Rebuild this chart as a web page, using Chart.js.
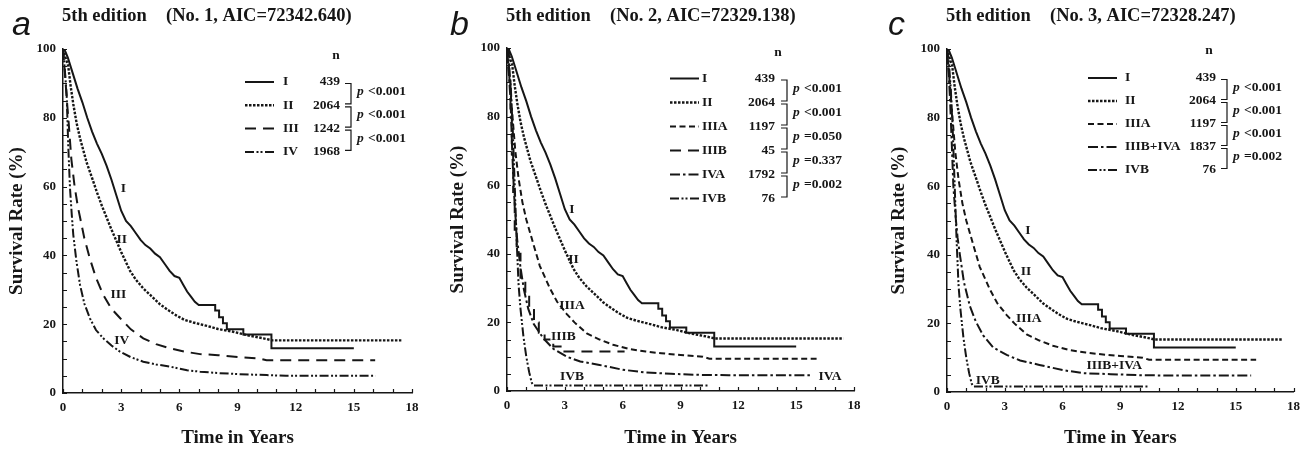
<!DOCTYPE html>
<html>
<head>
<meta charset="utf-8">
<script src="https://cdn.jsdelivr.net/npm/chart.js@4/dist/chart.umd.min.js"></script>
<style>
  body { margin: 0; background: #fff; width: 1307px; height: 449px; position: relative; overflow: hidden; }
  canvas { position: absolute; top: 0; }
</style>
</head>
<body>
<canvas id="chartA" width="435" height="449" style="left:0px"></canvas>
<canvas id="chartB" width="437" height="449" style="left:435px"></canvas>
<canvas id="chartC" width="435" height="449" style="left:872px"></canvas>
<script>
// axis ticks
const xTickValues = [0, 3, 6, 9, 12, 15, 18];
const yTickValues = [0, 20, 40, 60, 80, 100];

// survival curves, time in years / survival %
const stageI_t = [0, 0.1, 0.25, 0.5, 0.75, 1, 1.25, 1.5, 1.75, 2, 2.25, 2.5, 2.75, 3, 3.25, 3.5, 3.75, 4, 4.25, 4.5, 4.75, 5, 5.25, 5.5, 5.75, 6, 6.2, 6.4, 6.6, 6.8, 7, 7.85, 7.85, 8.05, 8.05, 8.25, 8.25, 8.45, 8.45, 9.3, 9.3, 10.75, 10.75, 15];
const stageI_s = [100, 99.5, 97.5, 93, 88.5, 84.5, 80, 76, 72.5, 69.5, 66, 62, 57.5, 53, 50, 48.5, 46.5, 44.5, 43, 42, 40.5, 39.5, 37.5, 35.5, 34, 33.5, 31.5, 29.5, 28, 26.5, 25.6, 25.6, 24, 24, 22, 22, 20.3, 20.3, 18.5, 18.5, 17, 17, 13, 13];

const stageII_t = [0, 0.1, 0.27, 0.4, 0.53, 0.7, 0.88, 1.05, 1.22, 1.5, 1.74, 2, 2.25, 2.5, 2.77, 3, 3.25, 3.46, 3.75, 4.14, 4.5, 5, 5.5, 5.86, 6.25, 6.72, 7.07, 7.5, 8, 8.78, 9.5, 10.33, 10.8, 17.45];
const stageII_s = [100, 98, 95, 89, 84, 78.5, 74, 70.5, 67, 62.5, 58.5, 54.5, 51, 47.5, 44, 41, 38, 35.5, 33, 30.4, 28.5, 25.8, 23.8, 22.5, 21.3, 20.5, 20, 19.4, 18.6, 17.8, 16.8, 15.9, 15.3, 15.3];

const stageIII_t = [0, 0.1, 0.2, 0.3, 0.43, 0.6, 0.77, 0.9, 1.1, 1.39, 1.7, 2.08, 2.5, 2.94, 3.5, 4.14, 4.8, 5.5, 6.3, 7.07, 8, 9, 10.16, 10.5, 16.1];
const stageIII_s = [100, 93, 85, 78, 68, 60, 54, 50.5, 45, 39, 33.5, 28.5, 24.5, 21.8, 18.5, 15.9, 14.2, 13, 12, 11.3, 11, 10.5, 10, 9.5, 9.5];

const stageIV_t = [0, 0.08, 0.19, 0.27, 0.36, 0.45, 0.53, 0.7, 0.88, 1.1, 1.39, 1.7, 2.08, 2.5, 2.94, 3.5, 4.14, 4.8, 5.5, 6.4, 7.07, 8, 9, 10.5, 11.5, 16.1];
const stageIV_s = [100, 95, 86.6, 72, 59.6, 52, 46, 38, 31.4, 26, 21.7, 18.3, 15.9, 13.8, 12, 10.4, 9.1, 8.3, 7.7, 6.6, 6.2, 5.8, 5.5, 5.2, 5, 5];

const stageIIIA_t = [0, 0.1, 0.2, 0.3, 0.43, 0.6, 0.8, 1, 1.36, 1.7, 2.22, 2.6, 3.09, 3.5, 4.14, 4.8, 5.5, 6.3, 7.2, 8, 9, 10.16, 10.5, 16.06];
const stageIIIA_s = [100, 93, 86, 79, 70, 62, 55, 50, 43, 36.5, 30, 26, 22.5, 20, 16.8, 15, 13.5, 12.3, 11.5, 11, 10.5, 10, 9.4, 9.4];

const stageIIIB_t = [0, 0.1, 0.1, 0.18, 0.18, 0.25, 0.25, 0.32, 0.32, 0.4, 0.4, 0.5, 0.5, 0.7, 0.7, 0.95, 0.95, 1.15, 1.15, 1.4, 1.4, 1.65, 1.65, 1.95, 1.95, 2.4, 2.4, 2.9, 2.9, 6.1];
const stageIIIB_s = [100, 100, 91, 91, 80, 80, 69, 69, 58, 58, 47, 47, 40, 40, 33, 33, 28, 28, 24, 24, 20, 20, 17, 17, 15, 15, 13, 13, 11.5, 11.5];

const stageIVA_t = [0, 0.08, 0.19, 0.27, 0.36, 0.45, 0.53, 0.7, 0.88, 1.1, 1.39, 1.88, 2.4, 3.1, 3.8, 4.8, 6, 7.2, 8.5, 10, 11.5, 15.8];
const stageIVA_s = [100, 94, 84, 70, 58, 50, 44, 36, 29.5, 24, 19.5, 15.4, 12.3, 10, 8.6, 7.6, 6.2, 5.4, 5, 4.7, 4.6, 4.6];

const stageIIIBIVA_t = [0, 0.08, 0.16, 0.25, 0.33, 0.45, 0.55, 0.67, 0.88, 1.19, 1.5, 1.88, 2.4, 3.1, 3.8, 4.8, 6, 7.05, 8.5, 10, 11.5, 15.8];
const stageIIIBIVA_s = [100, 94, 85, 72, 60, 51, 45, 40, 32, 25, 20.5, 16.5, 13, 10.8, 9.2, 7.9, 6.4, 5.5, 5.2, 4.9, 4.8, 4.8];

const stageIVB_t = [0, 0.1, 0.2, 0.3, 0.4, 0.5, 0.6, 0.7, 0.85, 1, 1.15, 1.28, 1.36, 10.45];
const stageIVB_s = [100, 96, 88, 76, 60, 44, 31, 24, 16, 10, 5.5, 2.5, 1.6, 1.6];

// legend tables
const labelsA = ['I', 'II', 'III', 'IV'];
const countsA = [439, 2064, 1242, 1968];
const pValuesA = ['<0.001', '<0.001', '<0.001'];

const labelsB = ['I', 'II', 'IIIA', 'IIIB', 'IVA', 'IVB'];
const countsB = [439, 2064, 1197, 45, 1792, 76];
const pValuesB = ['<0.001', '<0.001', '=0.050', '=0.337', '=0.002'];

const labelsC = ['I', 'II', 'IIIA', 'IIIB+IVA', 'IVB'];
const countsC = [439, 2064, 1197, 1837, 76];
const pValuesC = ['<0.001', '<0.001', '<0.001', '=0.002'];

// labels written next to the curves [text, years, %]
const curveTextA = [['I', 3.11, 59.5], ['II', 3.03, 44.5], ['III', 2.85, 28.5], ['IV', 3.03, 15.4]];
const curveTextB = [['I', 3.37, 52.8], ['II', 3.45, 38.2], ['IIIA', 3.37, 25], ['IIIB', 2.93, 15.8], ['IVB', 3.37, 4.1], ['IVA', 16.75, 4.1]];
const curveTextC = [['I', 4.2, 47.2], ['II', 4.1, 35], ['IIIA', 4.25, 21.4], ['IIIB+IVA', 8.69, 7.6], ['IVB', 2.12, 3.4]];

const INK = '#161616';
const SERIF = '"Liberation Serif", "DejaVu Serif", serif';

const lineStyles = {
  solid:      { dash: [], width: 2 },
  dotted:     { dash: [2.5, 1.5], width: 2.4 },
  longDash:   { dash: [11, 7], width: 2 },
  shortDash:  { dash: [6, 3.5], width: 2 },
  dashDot:    { dash: [10, 3, 2.5, 3], width: 2 },
  dashDotDot: { dash: [9, 2.5, 2, 2, 2, 2.5], width: 2 }
};

function curve(t, s, style) {
  return { t: t, s: s, style: lineStyles[style] };
}

function buildPanel(canvasId, p) {
  const datasets = p.curves.map((c, i) => ({
    label: p.labels[i],
    data: c.t.map((t, k) => ({ x: t, y: c.s[k] })),
    borderColor: INK,
    borderWidth: c.style.width,
    borderDash: c.style.dash,
    pointRadius: 0,
    tension: 0,
    fill: false
  }));

  const decor = {
    id: 'decor' + canvasId,
    afterDraw(chart) {
      const ctx = chart.ctx;
      const xs = chart.scales.x, ys = chart.scales.y;
      const area = chart.chartArea;
      ctx.save();
      ctx.fillStyle = INK;
      ctx.strokeStyle = INK;

      // inward minor ticks
      ctx.lineWidth = 1.2;
      ctx.setLineDash([]);
      ctx.beginPath();
      for (let t = 0; t <= 18; t++) {
        const px = Math.round(xs.getPixelForValue(t)) + 0.5;
        ctx.moveTo(px, area.bottom);
        ctx.lineTo(px, area.bottom - 4);
      }
      for (let v = 0; v <= 100; v += 5) {
        const py = Math.round(ys.getPixelForValue(v)) + 0.5;
        ctx.moveTo(area.left, py);
        ctx.lineTo(area.left + 4, py);
      }
      ctx.stroke();

      // panel letter and title
      ctx.textBaseline = 'alphabetic';
      ctx.textAlign = 'left';
      ctx.font = 'italic 34px "Liberation Sans", Arial, sans-serif';
      ctx.fillText(p.letter, p.letterX, 35);
      ctx.font = 'bold 18.5px ' + SERIF;
      ctx.fillText('5th edition', area.left - 1, 21);
      ctx.fillText(p.model, area.left + 103, 21);

      // curve labels
      ctx.font = 'bold 13.5px ' + SERIF;
      ctx.textAlign = 'center';
      ctx.textBaseline = 'middle';
      p.curveText.forEach(([txt, t, v]) => {
        ctx.fillText(txt, xs.getPixelForValue(t), ys.getPixelForValue(v));
      });

      // legend table
      const L = p.legend;
      ctx.fillText('n', L.nHeadX, L.nHeadY);
      p.labels.forEach((lab, i) => {
        const y = L.rowY + i * L.rowGap;
        const st = p.curves[i].style;
        ctx.lineWidth = st.width;
        ctx.setLineDash(st.dash);
        ctx.beginPath();
        ctx.moveTo(L.lineX, y);
        ctx.lineTo(L.lineX + 29, y);
        ctx.stroke();
        ctx.setLineDash([]);
        ctx.textAlign = 'left';
        ctx.font = 'bold 13.5px ' + SERIF;
        ctx.fillText(lab, L.labelX, y);
        ctx.textAlign = 'right';
        ctx.fillText(String(p.counts[i]), L.nX, y);
      });

      // brackets and p values
      ctx.lineWidth = 1.2;
      p.pValues.forEach((pv, i) => {
        const y1 = L.rowY + i * L.rowGap + 1.5;
        const y2 = L.rowY + (i + 1) * L.rowGap - 1.5;
        ctx.beginPath();
        ctx.moveTo(L.bracketX - 6, y1);
        ctx.lineTo(L.bracketX, y1);
        ctx.lineTo(L.bracketX, y2);
        ctx.lineTo(L.bracketX - 6, y2);
        ctx.stroke();
        const ym = (y1 + y2) / 2 - 2;
        ctx.textAlign = 'left';
        ctx.font = 'italic bold 13.5px ' + SERIF;
        ctx.fillText('p', L.pX, ym);
        ctx.font = 'bold 13.5px ' + SERIF;
        ctx.fillText(pv, L.pX + 11, ym);
      });
      ctx.restore();
    }
  };

  return new Chart(document.getElementById(canvasId), {
    type: 'line',
    data: { datasets: datasets },
    options: {
      responsive: false,
      animation: false,
      events: [],
      layout: { padding: { left: 0, top: p.top, right: p.padRight, bottom: 0 } },
      plugins: { legend: { display: false }, tooltip: { enabled: false } },
      scales: {
        x: {
          type: 'linear', min: 0, max: 18,
          afterBuildTicks: s => { s.ticks = xTickValues.map(v => ({ value: v })); },
          afterFit: s => { s.height = p.xAxisHeight; },
          grid: { drawOnChartArea: false, drawTicks: false },
          border: { display: true, color: INK, width: 1.5 },
          ticks: { color: INK, padding: 7, maxRotation: 0, font: { family: SERIF, size: 13, weight: 'bold' } },
          title: { display: true, text: 'Time in Years', color: INK, padding: { top: 0, bottom: 0 },
                   font: { family: SERIF, size: 19, weight: 'bold' } }
        },
        y: {
          type: 'linear', min: 0, max: 100,
          afterBuildTicks: s => { s.ticks = yTickValues.map(v => ({ value: v })); },
          afterFit: s => { s.width = p.yAxisWidth; },
          grid: { drawOnChartArea: false, drawTicks: false },
          border: { display: true, color: INK, width: 1.5 },
          ticks: { color: INK, padding: 7, font: { family: SERIF, size: 13, weight: 'bold' } },
          title: { display: true, text: 'Survival Rate (%)', color: INK, padding: { top: p.yTitlePad, bottom: 0 },
                   font: { family: SERIF, size: 19, weight: 'bold' } }
        }
      }
    },
    plugins: [decor]
  });
}

buildPanel('chartA', {
  letter: 'a', letterX: 12, model: '(No. 1, AIC=72342.640)',
  labels: labelsA, counts: countsA, pValues: pValuesA, curveText: curveTextA,
  curves: [
    curve(stageI_t, stageI_s, 'solid'),
    curve(stageII_t, stageII_s, 'dotted'),
    curve(stageIII_t, stageIII_s, 'longDash'),
    curve(stageIV_t, stageIV_s, 'dashDotDot')
  ],
  top: 49, padRight: 23, yAxisWidth: 63, xAxisHeight: 56, yTitlePad: 6,
  legend: { lineX: 245, labelX: 283, nX: 340, bracketX: 351, pX: 357, rowY: 82, rowGap: 23.3, nHeadX: 336, nHeadY: 56 }
});

buildPanel('chartB', {
  letter: 'b', letterX: 15, model: '(No. 2, AIC=72329.138)',
  labels: labelsB, counts: countsB, pValues: pValuesB, curveText: curveTextB,
  curves: [
    curve(stageI_t, stageI_s, 'solid'),
    curve(stageII_t, stageII_s, 'dotted'),
    curve(stageIIIA_t, stageIIIA_s, 'shortDash'),
    curve(stageIIIB_t, stageIIIB_s, 'longDash'),
    curve(stageIVA_t, stageIVA_s, 'dashDot'),
    curve(stageIVB_t, stageIVB_s, 'dashDotDot')
  ],
  top: 48, padRight: 18, yAxisWidth: 72, xAxisHeight: 58, yTitlePad: 11.6,
  legend: { lineX: 235, labelX: 267, nX: 340, bracketX: 352, pX: 358, rowY: 78.5, rowGap: 24, nHeadX: 343, nHeadY: 53 }
});

buildPanel('chartC', {
  letter: 'c', letterX: 16, model: '(No. 3, AIC=72328.247)',
  labels: labelsC, counts: countsC, pValues: pValuesC, curveText: curveTextC,
  curves: [
    curve(stageI_t, stageI_s, 'solid'),
    curve(stageII_t, stageII_s, 'dotted'),
    curve(stageIIIA_t, stageIIIA_s, 'shortDash'),
    curve(stageIIIBIVA_t, stageIIIBIVA_s, 'dashDot'),
    curve(stageIVB_t, stageIVB_s, 'dashDotDot')
  ],
  top: 49, padRight: 12, yAxisWidth: 75, xAxisHeight: 57, yTitlePad: 16,
  legend: { lineX: 216, labelX: 253, nX: 344, bracketX: 355, pX: 361, rowY: 78, rowGap: 23, nHeadX: 337, nHeadY: 51 }
});
</script>
</body>
</html>
